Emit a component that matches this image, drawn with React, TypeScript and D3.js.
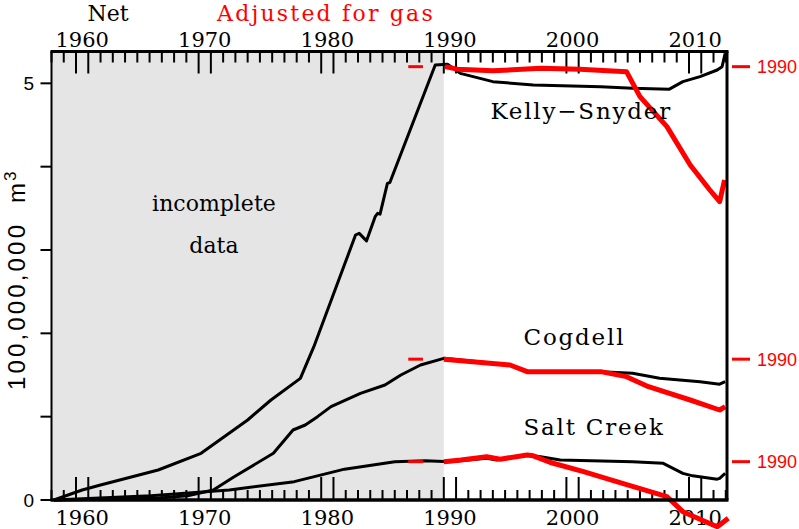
import React, { useEffect, useRef } from 'react';
import * as d3 from 'd3';

// cumulative production, 100,000,000 m3, [year, value]
const kellyNet: [number, number][] = [
  [1957.7, 0], [1960, 0.12], [1961.5, 0.18], [1966.2, 0.36], [1969.7, 0.56], [1973.5, 0.96],
  [1975.4, 1.2], [1977.8, 1.46], [1978.9, 1.84], [1982.3, 3.18], [1982.6, 3.2], [1983.2, 3.11],
  [1983.9, 3.4], [1984.1, 3.44], [1984.3, 3.43], [1984.9, 3.8], [1985.1, 3.81], [1988.8, 5.22],
  [1989.8, 5.23], [1990.85, 5.12], [1993.5, 5.02], [1996.8, 4.98], [2002.3, 4.96], [2004.9, 4.94],
  [2007.9, 4.93], [2009, 5.02], [2010.4, 5.08], [2011.8, 5.16], [2012.2, 5.2], [2012.45, 5.36],
];
const cogdellNet: [number, number][] = [
  [1957.7, 0], [1962, 0.01], [1966, 0.02], [1968.6, 0.05], [1970.7, 0.12], [1972.4, 0.28],
  [1975.6, 0.56], [1977.2, 0.84], [1978.2, 0.9], [1979.2, 1.0], [1980.3, 1.12], [1982.7, 1.28],
  [1984.7, 1.38], [1986, 1.5], [1987.6, 1.62], [1989.5, 1.7], [1994.9, 1.62], [1996.3, 1.54],
  [2002.3, 1.54], [2004.9, 1.52], [2007.1, 1.46], [2010.4, 1.42], [2012, 1.39], [2012.45, 1.42],
];
const saltNet: [number, number][] = [
  [1957.7, 0], [1965.6, 0.05], [1972, 0.12], [1977.3, 0.22], [1981.4, 0.37], [1985.5, 0.46],
  [1988, 0.47], [1990, 0.46], [1993, 0.5], [1993.8, 0.48], [1996.3, 0.54], [1997.4, 0.52],
  [1999, 0.48], [2004.9, 0.46], [2007.4, 0.44], [2009, 0.32], [2009.8, 0.29], [2011.8, 0.25],
  [2012, 0.26], [2012.45, 0.32],
];
const kellyAdj: [number, number][] = [
  [1989.6, 5.2], [1990.6, 5.17], [1993.5, 5.15], [1997.4, 5.18], [2000.6, 5.17], [2004.4, 5.14],
  [2005.5, 4.84], [2007.7, 4.48], [2009.6, 4.02], [2011.2, 3.72], [2012, 3.58], [2012.4, 3.84],
];
const cogdellAdj: [number, number][] = [
  [1989.5, 1.69], [1994.9, 1.62], [1996.3, 1.54], [2002.3, 1.54], [2004.4, 1.48], [2006.2, 1.36],
  [2009.6, 1.2], [2012, 1.08], [2012.45, 1.12],
];
const saltAdj: [number, number][] = [
  [1989.5, 0.46], [1990.9, 0.48], [1993, 0.52], [1994.1, 0.49], [1996.3, 0.54], [1996.8, 0.53],
  [1998.2, 0.45], [2000.9, 0.34], [2003.6, 0.22], [2007.7, 0.04], [2009, -0.14], [2011.8, -0.32],
  [2012, -0.3], [2012.7, -0.22],
];
const level1990 = [5.2, 1.69, 0.46];
const fieldNames = ['Kelly\u2212Snyder', 'Cogdell', 'Salt Creek'];
const fieldLabelPos: [number, number][] = [[1993.3, 4.57], [1996.0, 1.86], [1996.0, 0.78]];
const decadeLabels = [1960, 1970, 1980, 1990, 2000, 2010];
const yTicks = [0, 1, 2, 3, 4, 5];
const yLabels = [0, 5];

export default function App() {
  const svgRef = useRef<SVGSVGElement>(null);

  useEffect(() => {
    const width = 799;
    const height = 529;
    const margin = { top: 51.5, right: 72, bottom: 29, left: 51.5 };
    const serif = '"DejaVu Serif", serif';
    const sans = '"Liberation Sans", Arial, sans-serif';
    const red = '#f00';

    const svg = d3.select(svgRef.current);
    svg.selectAll('*').remove();
    svg.attr('width', width).attr('height', height);

    const x = d3.scaleLinear()
      .domain([1957.5, 2012.6])
      .range([margin.left, width - margin.right]);
    const y = d3.scaleLinear()
      .domain([0, 5.382])
      .range([height - margin.bottom, margin.top]);

    const x0 = x.range()[0], x1 = x.range()[1];
    const yB = y(0), yT = y.range()[1];

    // shaded incomplete data region
    svg.append('rect')
      .attr('x', x0).attr('y', yT)
      .attr('width', x(1989.5) - x0).attr('height', yB - yT)
      .attr('fill', '#e5e5e5');

    // year ticks
    const tickYears = d3.range(1957, 2013).map(k => k + 0.5);
    tickYears.forEach(t => {
      const long = (t + 0.5) % 10 === 0 || (t - 0.5) % 10 === 0;
      svg.append('line')
        .attr('x1', x(t)).attr('x2', x(t))
        .attr('y1', yB).attr('y2', yB - (long ? 23 : 10))
        .attr('stroke', '#000').attr('stroke-width', 2);
      svg.append('line')
        .attr('x1', x(t)).attr('x2', x(t))
        .attr('y1', yT).attr('y2', yT + (long ? 22 : 11))
        .attr('stroke', '#000').attr('stroke-width', 2);
    });

    decadeLabels.forEach(d => {
      svg.append('text')
        .attr('x', x(d)).attr('y', 525)
        .attr('text-anchor', 'middle')
        .style('font-family', serif).style('font-size', '21px')
        .text(d);
      svg.append('text')
        .attr('x', x(d)).attr('y', 47)
        .attr('text-anchor', 'middle')
        .style('font-family', serif).style('font-size', '21px')
        .text(d);
    });

    // y axis
    yTicks.forEach(v => {
      svg.append('line')
        .attr('x1', x0 - 11).attr('x2', x0)
        .attr('y1', y(v)).attr('y2', y(v))
        .attr('stroke', '#000').attr('stroke-width', 2);
    });
    yLabels.forEach(v => {
      svg.append('text')
        .attr('x', 34).attr('y', y(v) + 7)
        .attr('text-anchor', 'end')
        .style('font-family', sans).style('font-size', '19px')
        .text(v);
    });
    svg.append('text')
      .attr('transform', `translate(25,390) rotate(-90)`)
      .attr('textLength', 165)
      .attr('lengthAdjust', 'spacing')
      .style('font-family', sans).style('font-size', '24px')
      .text('100,000,000');
    const unit = svg.append('text')
      .attr('transform', `translate(25,203) rotate(-90)`)
      .style('font-family', sans).style('font-size', '24px');
    unit.append('tspan').text('m');
    unit.append('tspan').attr('dy', -9).attr('dx', 2).style('font-size', '17px').text('3');

    // lines
    const line = d3.line<[number, number]>()
      .x(d => x(d[0]))
      .y(d => y(d[1]));

    [kellyNet, cogdellNet, saltNet].forEach(s => {
      svg.append('path')
        .datum(s)
        .attr('fill', 'none')
        .attr('stroke', '#000')
        .attr('stroke-width', 3)
        .attr('stroke-linejoin', 'round')
        .attr('d', line);
    });
    [kellyAdj, cogdellAdj, saltAdj].forEach(s => {
      svg.append('path')
        .datum(s)
        .attr('fill', 'none')
        .attr('stroke', red)
        .attr('stroke-width', 5)
        .attr('stroke-linejoin', 'round')
        .attr('d', line);
    });

    // 1990 level markers
    level1990.forEach(v => {
      svg.append('line')
        .attr('x1', x(1986.6)).attr('x2', x(1987.8))
        .attr('y1', y(v)).attr('y2', y(v))
        .attr('stroke', red).attr('stroke-width', 3);
      svg.append('line')
        .attr('x1', x1 + 5).attr('x2', x1 + 23)
        .attr('y1', y(v)).attr('y2', y(v))
        .attr('stroke', red).attr('stroke-width', 3);
      svg.append('text')
        .attr('x', x1 + 30).attr('y', y(v) + 6.5)
        .attr('fill', red)
        .style('font-family', sans).style('font-size', '18px')
        .text('1990');
    });

    // frame
    svg.append('line').attr('x1', x0).attr('x2', x0).attr('y1', yT).attr('y2', yB)
      .attr('stroke', '#000').attr('stroke-width', 2);
    svg.append('line').attr('x1', x1).attr('x2', x1).attr('y1', yT).attr('y2', yB)
      .attr('stroke', '#000').attr('stroke-width', 3);
    svg.append('line').attr('x1', x0 - 1).attr('x2', x1 + 1.5).attr('y1', yT).attr('y2', yT)
      .attr('stroke', '#000').attr('stroke-width', 3);
    svg.append('line').attr('x1', x0 - 1).attr('x2', x1 + 1.5).attr('y1', yB).attr('y2', yB)
      .attr('stroke', '#000').attr('stroke-width', 3.5);

    // field names
    fieldNames.forEach((n, i) => {
      svg.append('text')
        .attr('x', x(fieldLabelPos[i][0])).attr('y', y(fieldLabelPos[i][1]))
        .style('font-family', serif).style('font-size', '23px')
        .style('letter-spacing', '1.8px')
        .text(n);
    });
    svg.append('text')
      .attr('x', x(1970.75)).attr('y', 211)
      .attr('text-anchor', 'middle')
      .style('font-family', serif).style('font-size', '22px')
      .text('incomplete');
    svg.append('text')
      .attr('x', x(1970.75)).attr('y', 253)
      .attr('text-anchor', 'middle')
      .style('font-family', serif).style('font-size', '22px')
      .text('data');

    // header
    svg.append('text')
      .attr('x', 108).attr('y', 21)
      .attr('text-anchor', 'middle')
      .style('font-family', serif).style('font-size', '22px')
      .text('Net');
    svg.append('text')
      .attr('x', 326).attr('y', 21)
      .attr('text-anchor', 'middle')
      .attr('fill', red)
      .style('font-family', serif).style('font-size', '22px')
      .style('letter-spacing', '2.2px')
      .text('Adjusted for gas');
  }, []);

  return (
    <svg ref={svgRef} style={{ position: 'absolute', left: 0, top: 0 }}></svg>
  );
}
